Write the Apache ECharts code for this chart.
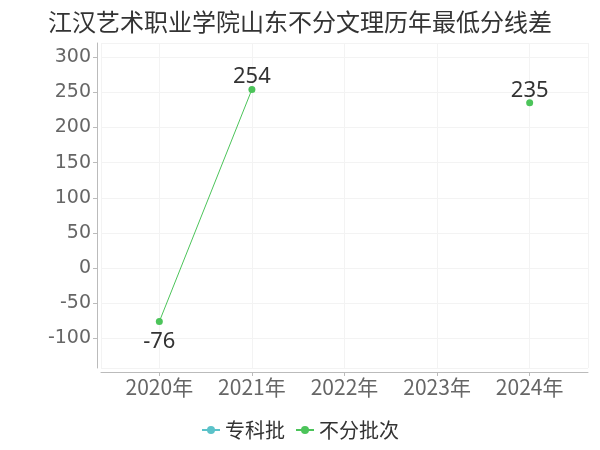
<!DOCTYPE html>
<html>
<head>
<meta charset="utf-8">
<script src="https://cdn.jsdelivr.net/npm/echarts@6/dist/echarts.min.js"></script>
<style>html,body{margin:0;padding:0;background:#fff}#c{width:600px;height:450px}</style>
</head>
<body>
<div id="c"></div>
<script>
var titleText = '江汉艺术职业学院山东不分文理历年最低分线差';
var categories = ['2020年', '2021年', '2022年', '2023年', '2024年'];
var seriesNames = ['专科批', '不分批次'];
var zhuankeValues = [null, null, null, null, null];
var bufenValues = [-76, 254, null, null, 235];

function toPairs(vals) {
  return vals.map(function (v, i) { return [i, v]; });
}

var chart = echarts.init(document.getElementById('c'), null, {renderer: 'canvas'});
chart.setOption({
  animation: false,
  color: ['#5bc2c9', '#4cc45a'],
  title: {
    text: titleText,
    left: 'center',
    top: 5,
    textStyle: {fontSize: 24, fontWeight: 'normal', color: '#333', fontFamily: 'Noto Sans CJK SC'}
  },
  legend: {
    bottom: 5,
    left: 'center',
    itemGap: 10,
    itemWidth: 18,
    itemHeight: 10,
    textStyle: {fontSize: 20, color: '#333', fontFamily: 'Noto Sans CJK SC'},
    data: seriesNames
  },
  grid: {left: 101, right: 12, top: 43, bottom: 82, containLabel: false},
  xAxis: {
    type: 'value',
    min: -0.63,
    max: 4.63,
    splitNumber: 5,
    offset: 4,
    axisLine: {show: true, onZero: false, lineStyle: {color: '#bbb'}},
    axisTick: {show: true, length: 4, lineStyle: {color: '#bbb'}},
    splitLine: {show: true, lineStyle: {color: '#f3f3f3'}},
    axisLabel: {
      fontSize: 21, color: '#666', margin: 5, fontFamily: 'Noto Sans CJK SC',
      showMinLabel: false, showMaxLabel: false,
      formatter: function (v) {
        return (Math.abs(v - Math.round(v)) < 1e-6 && categories[Math.round(v)]) ? categories[Math.round(v)] : '';
      }
    }
  },
  yAxis: {
    type: 'value',
    min: -142,
    max: 320,
    splitNumber: 9,
    offset: 4,
    axisLine: {show: true, onZero: false, lineStyle: {color: '#bbb'}},
    axisTick: {show: true, length: 4, lineStyle: {color: '#bbb'}},
    splitLine: {show: true, lineStyle: {color: '#f3f3f3'}},
    axisLabel: {fontSize: 19, color: '#666', margin: 6, showMinLabel: false, showMaxLabel: false, fontFamily: 'DejaVu Sans'}
  },
  series: [
    {
      name: seriesNames[0],
      type: 'line',
      data: toPairs(zhuankeValues),
      symbol: 'circle',
      symbolSize: 7
    },
    {
      name: seriesNames[1],
      type: 'line',
      data: toPairs(bufenValues).map(function (d) {
        return d[1] !== null && d[1] < 0 ? {value: d, label: {position: 'bottom', distance: 6}} : d;
      }),
      connectNulls: false,
      symbol: 'circle',
      symbolSize: 7,
      lineStyle: {width: 1},
      label: {
        show: true,
        fontSize: 22,
        color: '#333',
        fontFamily: 'Noto Sans',
        position: 'top',
        distance: -2,
        formatter: function (p) { return p.value[1]; }
      }
    }
  ]
});
</script>
</body>
</html>
